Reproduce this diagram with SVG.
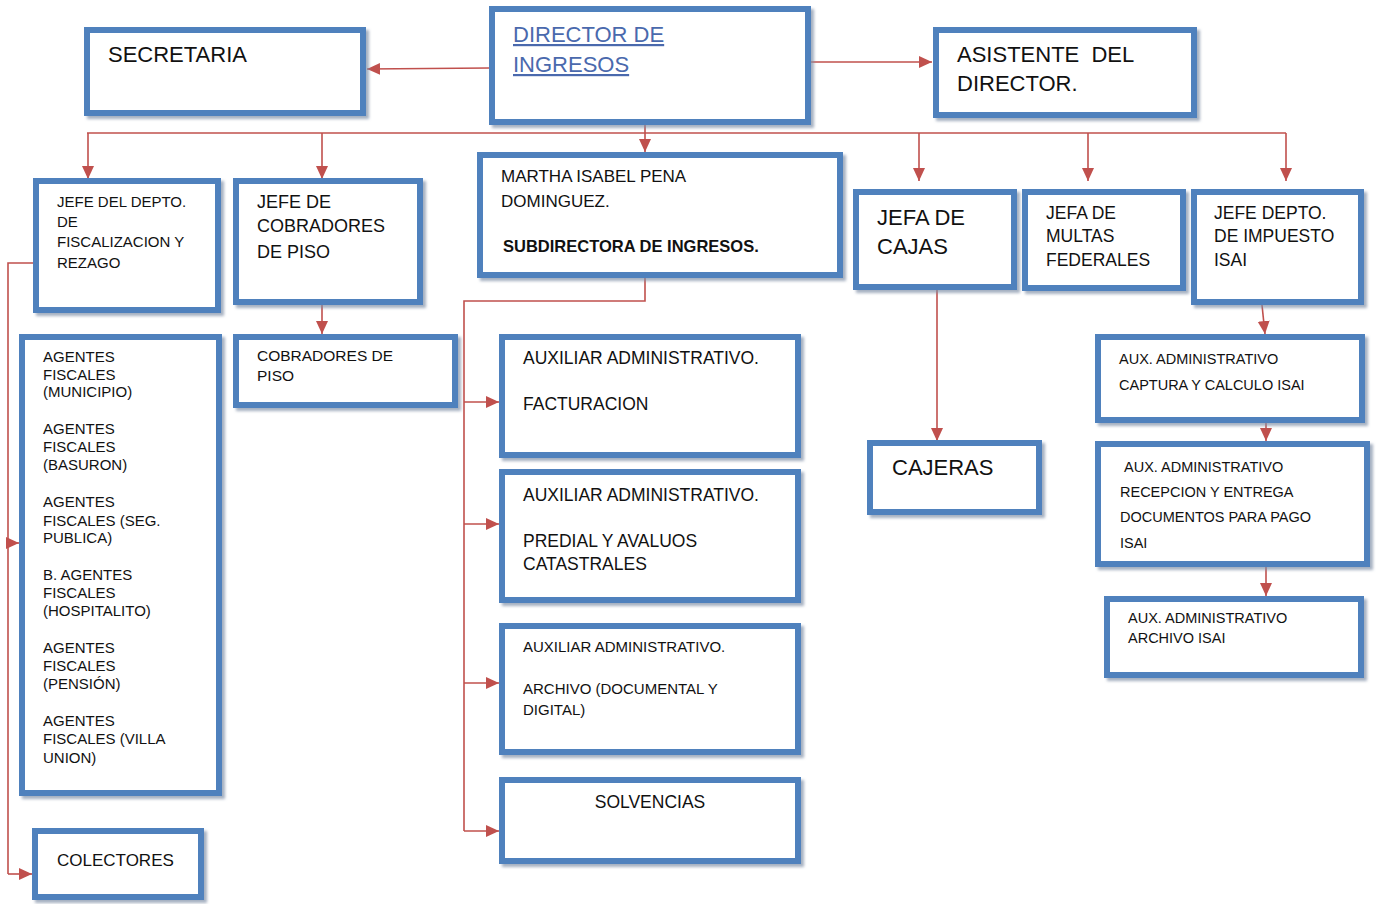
<svg xmlns="http://www.w3.org/2000/svg" width="1377" height="904" viewBox="0 0 1377 904">
<style>
.box{fill:#ffffff;stroke:#4F81BD;stroke-width:6;filter:url(#sh)}
.t{font-family:"Liberation Sans",Arial,sans-serif;fill:#111111}
.c{fill:none;stroke:#C0504D;stroke-width:1.6}
.ca{fill:none;stroke:#C0504D;stroke-width:1.6;marker-end:url(#ah)}
</style>
<defs>
<filter id="sh" x="-5%" y="-5%" width="115%" height="120%">
<feDropShadow dx="3" dy="3" stdDeviation="1.5" flood-color="#7f8fa6" flood-opacity="0.7"/>
</filter>
<marker id="ah" markerUnits="userSpaceOnUse" markerWidth="14" markerHeight="14" viewBox="0 0 14 14" refX="13" refY="7" orient="auto">
<path d="M0,1 L13,7 L0,13 Z" fill="#C0504D"/>
</marker>
</defs>

<g id="connectors">
<path class="ca" d="M489,68 L367,69"/>
<path class="ca" d="M811,62 L932,62"/>
<path class="ca" d="M645,125 L645,152"/>
<path class="c" d="M87,133 L1286,133"/>
<path class="ca" d="M88,133 L88,179"/>
<path class="ca" d="M322,133 L322,179"/>
<path class="ca" d="M919,133 L919,181"/>
<path class="ca" d="M1088,133 L1088,181"/>
<path class="ca" d="M1286,133 L1286,181"/>
<path class="c" d="M645,278 L645,301 L464,301 L464,831"/>
<path class="ca" d="M464,402 L499,402"/>
<path class="ca" d="M464,524 L499,524"/>
<path class="ca" d="M464,683 L499,683"/>
<path class="ca" d="M464,831 L499,831"/>
<path class="c" d="M33,263 L8,263 L8,874"/>
<path class="ca" d="M8,874 L32,874"/>
<path class="ca" d="M8,543 L19,543"/>
<path class="ca" d="M322,305 L322,334"/>
<path class="ca" d="M937,290 L937,441"/>
<path class="ca" d="M1262,305 L1265,334"/>
<path class="ca" d="M1266,423 L1266,441"/>
<path class="ca" d="M1266,567 L1266,596"/>
</g>

<g id="secretaria">
<rect class="box" x="87" y="30" width="276" height="83"/>
<text class="t" x="108" y="62" font-size="22">SECRETARIA</text>
</g>

<g id="director">
<rect class="box" x="492" y="9" width="316" height="113"/>
<text class="t" x="513" y="42" font-size="22" fill="#4A69AD" style="fill:#4A69AD" text-decoration="underline">DIRECTOR DE</text>
<text class="t" x="513" y="72" font-size="22" style="fill:#4A69AD" text-decoration="underline">INGRESOS</text>
</g>

<g id="asistente">
<rect class="box" x="936" y="30" width="258" height="85"/>
<text class="t" x="957" y="62" font-size="22" xml:space="preserve">ASISTENTE  DEL</text>
<text class="t" x="957" y="91" font-size="22">DIRECTOR.</text>
</g>

<g id="jefe-fiscalizacion">
<rect class="box" x="36" y="181" width="182" height="129"/>
<text class="t" font-size="15"><tspan x="57" y="207">JEFE DEL DEPTO.</tspan><tspan x="57" y="227">DE</tspan><tspan x="57" y="247">FISCALIZACION Y</tspan><tspan x="57" y="268">REZAGO</tspan></text>
</g>

<g id="jefe-cobradores">
<rect class="box" x="236" y="181" width="184" height="121"/>
<text class="t" font-size="18"><tspan x="257" y="208">JEFE DE</tspan><tspan x="257" y="232">COBRADORES</tspan><tspan x="257" y="258">DE PISO</tspan></text>
</g>

<g id="subdirectora">
<rect class="box" x="480" y="155" width="360" height="120"/>
<text class="t" font-size="17"><tspan x="501" y="182">MARTHA ISABEL PENA</tspan><tspan x="501" y="207">DOMINGUEZ.</tspan></text>
<text class="t" x="503" y="252" font-size="16.5" font-weight="bold">SUBDIRECTORA DE INGRESOS.</text>
</g>

<g id="jefa-cajas">
<rect class="box" x="856" y="192" width="158" height="95"/>
<text class="t" font-size="22"><tspan x="877" y="225">JEFA DE</tspan><tspan x="877" y="254">CAJAS</tspan></text>
</g>

<g id="jefa-multas">
<rect class="box" x="1025" y="192" width="158" height="96"/>
<text class="t" font-size="17.5"><tspan x="1046" y="219">JEFA DE</tspan><tspan x="1046" y="242">MULTAS</tspan><tspan x="1046" y="266">FEDERALES</tspan></text>
</g>

<g id="jefe-isai">
<rect class="box" x="1194" y="192" width="167" height="110"/>
<text class="t" font-size="17.5"><tspan x="1214" y="219">JEFE DEPTO.</tspan><tspan x="1214" y="242">DE IMPUESTO</tspan><tspan x="1214" y="266">ISAI</tspan></text>
</g>

<g id="agentes">
<rect class="box" x="22" y="337" width="197" height="456"/>
<text class="t" font-size="15">
<tspan x="43" y="362">AGENTES</tspan><tspan x="43" y="380">FISCALES</tspan><tspan x="43" y="397">(MUNICIPIO)</tspan>
<tspan x="43" y="434">AGENTES</tspan><tspan x="43" y="452">FISCALES</tspan><tspan x="43" y="470">(BASURON)</tspan>
<tspan x="43" y="507">AGENTES</tspan><tspan x="43" y="526">FISCALES (SEG.</tspan><tspan x="43" y="543">PUBLICA)</tspan>
<tspan x="43" y="580">B. AGENTES</tspan><tspan x="43" y="598">FISCALES</tspan><tspan x="43" y="616">(HOSPITALITO)</tspan>
<tspan x="43" y="653">AGENTES</tspan><tspan x="43" y="671">FISCALES</tspan><tspan x="43" y="689">(PENSIÓN)</tspan>
<tspan x="43" y="726">AGENTES</tspan><tspan x="43" y="744">FISCALES (VILLA</tspan><tspan x="43" y="763">UNION)</tspan>
</text>
</g>

<g id="cobradores-piso">
<rect class="box" x="236" y="337" width="219" height="68"/>
<text class="t" font-size="15.5"><tspan x="257" y="361">COBRADORES DE</tspan><tspan x="257" y="381">PISO</tspan></text>
</g>

<g id="colectores">
<rect class="box" x="35" y="831" width="166" height="66"/>
<text class="t" x="57" y="866" font-size="17">COLECTORES</text>
</g>

<g id="aux-facturacion">
<rect class="box" x="502" y="337" width="296" height="118"/>
<text class="t" font-size="17.5"><tspan x="523" y="364">AUXILIAR ADMINISTRATIVO.</tspan><tspan x="523" y="410">FACTURACION</tspan></text>
</g>

<g id="aux-predial">
<rect class="box" x="502" y="472" width="296" height="128"/>
<text class="t" font-size="17.5"><tspan x="523" y="501">AUXILIAR ADMINISTRATIVO.</tspan><tspan x="523" y="547">PREDIAL Y AVALUOS</tspan><tspan x="523" y="570">CATASTRALES</tspan></text>
</g>

<g id="aux-archivo">
<rect class="box" x="502" y="626" width="296" height="126"/>
<text class="t" font-size="15"><tspan x="523" y="652">AUXILIAR ADMINISTRATIVO.</tspan><tspan x="523" y="694">ARCHIVO (DOCUMENTAL Y</tspan><tspan x="523" y="715">DIGITAL)</tspan></text>
</g>

<g id="solvencias">
<rect class="box" x="502" y="780" width="296" height="81"/>
<text class="t" x="650" y="808" font-size="17.5" text-anchor="middle">SOLVENCIAS</text>
</g>

<g id="cajeras">
<rect class="box" x="870" y="443" width="169" height="69"/>
<text class="t" x="892" y="475" font-size="22">CAJERAS</text>
</g>

<g id="aux-captura">
<rect class="box" x="1098" y="337" width="264" height="83"/>
<text class="t" font-size="14.5"><tspan x="1119" y="364">AUX. ADMINISTRATIVO</tspan><tspan x="1119" y="390">CAPTURA Y CALCULO ISAI</tspan></text>
</g>

<g id="aux-recepcion">
<rect class="box" x="1098" y="444" width="269" height="120"/>
<text class="t" font-size="14.5"><tspan x="1124" y="472">AUX. ADMINISTRATIVO</tspan><tspan x="1120" y="497">RECEPCION Y ENTREGA</tspan><tspan x="1120" y="522">DOCUMENTOS PARA PAGO</tspan><tspan x="1120" y="548">ISAI</tspan></text>
</g>

<g id="aux-archivo-isai">
<rect class="box" x="1107" y="599" width="254" height="76"/>
<text class="t" font-size="14.5"><tspan x="1128" y="623">AUX. ADMINISTRATIVO</tspan><tspan x="1128" y="643">ARCHIVO ISAI</tspan></text>
</g>
</svg>
